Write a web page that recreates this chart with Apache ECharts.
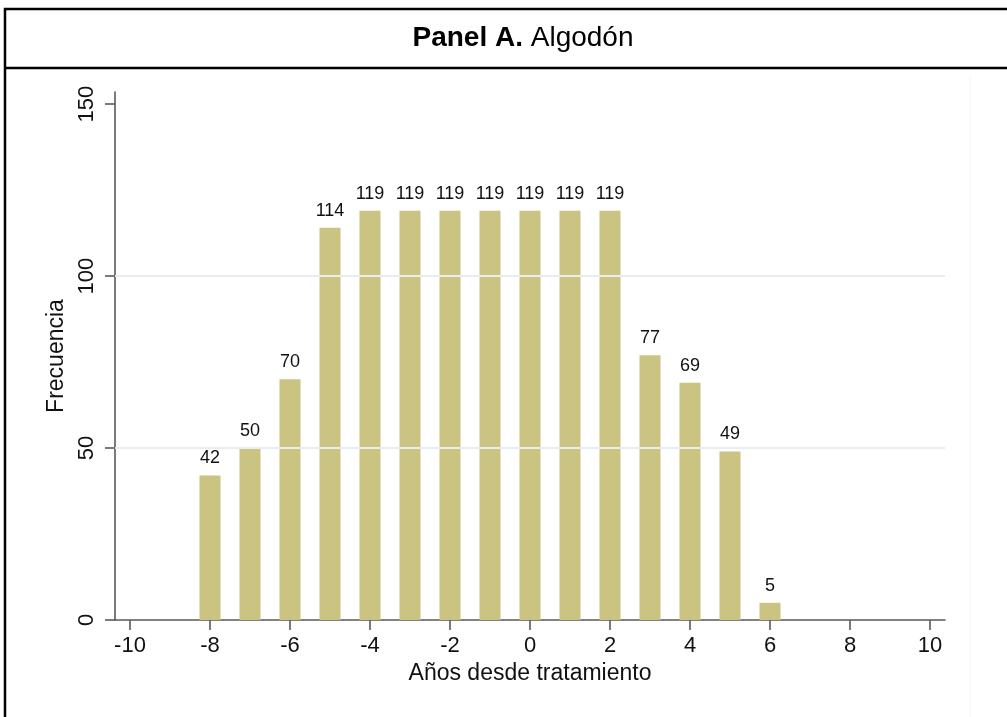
<!DOCTYPE html>
<html>
<head>
<meta charset="utf-8">
<script src="https://cdn.jsdelivr.net/npm/echarts@6/dist/echarts.min.js"></script>
<style>
html,body{margin:0;padding:0;background:#fff;}
#c{width:1007px;height:717px;}
</style>
</head>
<body>
<div id="c"></div>
<script>
var years = [-8, -7, -6, -5, -4, -3, -2, -1, 0, 1, 2, 3, 4, 5, 6];
var counts = [42, 50, 70, 114, 119, 119, 119, 119, 119, 119, 119, 77, 69, 49, 5];
var xTicks = [-10, -8, -6, -4, -2, 0, 2, 4, 6, 8, 10];
var yTicks = [0, 50, 100, 150];
var gridValues = [50, 100];
var titleBold = 'Panel A.';
var titleRest = ' Algodón';
var xName = 'Años desde tratamiento';
var yName = 'Frecuencia';

var FONT = '"Liberation Sans", Arial, sans-serif';
var chart = echarts.init(document.getElementById('c'), null, {renderer: 'canvas'});

var seriesData = years.map(function (y, i) { return [y, counts[i]]; });

chart.setOption({
  animation: false,
  backgroundColor: '#ffffff',
  grid: {left: 115, right: 62, top: 92, bottom: 97, containLabel: false},
  xAxis: {
    type: 'value',
    min: -10.375,
    max: 10.375,
    name: xName,
    nameLocation: 'middle',
    nameGap: 38,
    nameTextStyle: {fontFamily: FONT, fontSize: 23, color: '#111'},
    axisLine: {show: true, onZero: false, lineStyle: {color: '#5a5a5a', width: 1.6}},
    axisTick: {show: true, length: 10, customValues: xTicks, lineStyle: {color: '#5a5a5a', width: 1.6}},
    axisLabel: {customValues: xTicks, fontFamily: FONT, fontSize: 22, color: '#111', margin: 15},
    splitLine: {show: false}
  },
  yAxis: {
    type: 'value',
    min: 0,
    max: 153.5,
    name: yName,
    nameLocation: 'middle',
    nameGap: 40,
    nameRotate: 90,
    nameTextStyle: {fontFamily: FONT, fontSize: 23, color: '#111'},
    axisLine: {show: true, onZero: false, lineStyle: {color: '#5a5a5a', width: 1.6}},
    axisTick: {show: true, length: 10, customValues: yTicks, lineStyle: {color: '#5a5a5a', width: 1.6}},
    axisLabel: {customValues: yTicks, rotate: 90, fontFamily: FONT, fontSize: 22, color: '#111', margin: 17},
    splitLine: {show: false}
  },
  series: [{
    type: 'line',
    data: [],
    z: 1,
    silent: true,
    markLine: {
      silent: true,
      symbol: 'none',
      label: {show: false},
      lineStyle: {type: 'solid', color: '#e6eef2', width: 2},
      data: gridValues.map(function (v) { return {yAxis: v}; })
    }
  }, {
    type: 'bar',
    data: seriesData,
    barWidth: 21,
    itemStyle: {color: '#cac381'},
    label: {show: true, position: 'top', distance: 8, fontFamily: FONT, fontSize: 18, color: '#111'},
    z: 3
  }],
  graphic: [
    {type: 'rect', shape: {x: 5, y: 9, width: 1010, height: 720}, style: {fill: 'none', stroke: '#000', lineWidth: 2.5}, z: 10},
    {type: 'line', shape: {x1: 5, y1: 68, x2: 1007, y2: 68}, style: {stroke: '#000', lineWidth: 2.5}, z: 10},
    {type: 'line', shape: {x1: 970, y1: 76, x2: 970, y2: 717}, style: {stroke: '#f4f4f4', lineWidth: 1}, z: 1},
    {
      type: 'text', x: 523, y: 38, z: 10,
      style: {
        text: '{b|' + titleBold + '}{r|' + titleRest + '}',
        textAlign: 'center', textVerticalAlign: 'middle',
        rich: {
          b: {fontFamily: FONT, fontSize: 28, fontWeight: 'bold', fill: '#000'},
          r: {fontFamily: FONT, fontSize: 28, fill: '#000'}
        }
      }
    }
  ]
});
</script>
</body>
</html>
